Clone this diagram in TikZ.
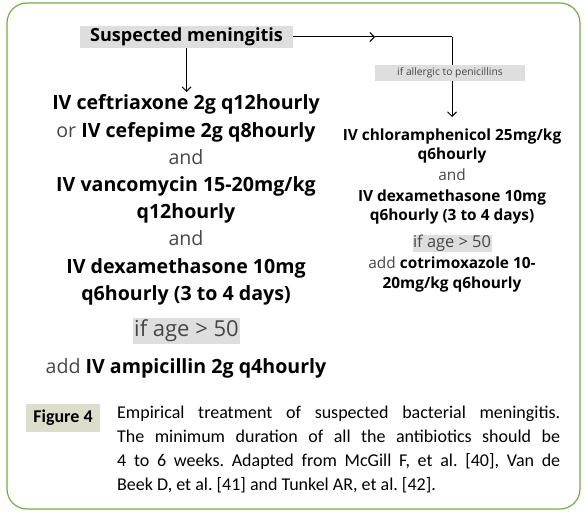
\documentclass[tikz,border=0pt]{standalone}
\usepackage{fontspec}
\setmainfont{Open Sans}
\newfontfamily\capfont{Carlito}
\usepackage{xcolor}
\usetikzlibrary{arrows.meta}
\definecolor{framegreen}{RGB}{112,173,71}
\definecolor{boxgray}{RGB}{222,222,222}
\definecolor{figbeige}{RGB}{221,221,204}
\definecolor{softtxt}{RGB}{70,70,70}
\frenchspacing
\begin{document}
\begin{tikzpicture}[x=1pt,y=-1pt,
  line/.style={anchor=base,inner sep=0pt},
  big/.style={line,font=\fontsize{19.6}{22}\selectfont\bfseries},
  bigl/.style={line,font=\fontsize{19.6}{22}\selectfont,text=softtxt},
  sml/.style={line,font=\fontsize{15.4}{18}\selectfont\bfseries},
  smll/.style={line,font=\fontsize{15.4}{18}\selectfont,text=softtxt},
  grey/.style={fill=boxgray,inner sep=0pt},
  arr/.style={-{Straight Barb[length=4.5pt,width=9pt]},line width=1pt}]
\useasboundingbox (0,0) rectangle (586,516);
\draw[framegreen,line width=1.2pt,rounded corners=20pt] (7,3) rectangle (580,509);
% top
\node[grey,minimum width=213pt,minimum height=22pt,font=\fontsize{18.1}{20}\selectfont\bfseries] (susp) at (186.5,37) {Suspected meningitis};
\coordinate (mid) at (375,37);
\coordinate (corner) at (452,37);
\coordinate (alt) at (452,117);
\coordinate (main) at (186.5,92);
\draw[arr] (susp.south) -- (main);
\draw[arr] (susp.east) -- (mid);
\draw[line width=1pt] (mid) -- (corner);
\draw[arr] (corner) -- (alt);
\node[grey,minimum width=150pt,minimum height=16pt,font=\fontsize{10.3}{12}\selectfont,text=softtxt] (allerg) at (450,73) {if allergic to penicillins};
% left column
\node[big] (l1) at (186,110) {IV ceftriaxone 2g q12hourly};
\node[big] (l2) at (186,137.5) {{\mdseries\color{softtxt}or} IV cefepime 2g q8hourly};
\node[bigl] (l3) at (186,164.5) {and};
\node[big] (l4) at (186,191.5) {IV vancomycin 15-20mg/kg};
\node[big] (l5) at (186,218) {q12hourly};
\node[bigl] (l6) at (186,245.5) {and};
\node[big] (l7) at (186,273) {IV dexamethasone 10mg};
\node[big] (l8) at (186,300) {q6hourly (3 to 4 days)};
\node[grey,minimum width=107pt,minimum height=26pt,font=\fontsize{22}{24}\selectfont,text=softtxt] (lage) at (186.5,331) {if age > 50};
\node[big] (l9) at (186,373) {{\mdseries\color{softtxt}add} IV ampicillin 2g q4hourly};
% right column
\node[sml] (r1) at (452,140.5) {IV chloramphenicol 25mg/kg};
\node[sml] (r2) at (452,160) {q6hourly};
\node[smll] (r3) at (452,180) {and};
\node[sml] (r4) at (452,201) {IV dexamethasone 10mg};
\node[sml] (r5) at (452,220.5) {q6hourly (3 to 4 days)};
\node[grey,minimum width=79pt,minimum height=17pt,font=\fontsize{16.4}{18}\selectfont,text=softtxt] (rage) at (452,243.5) {if age > 50};
\node[sml] (r6) at (452,268) {{\mdseries\color{softtxt}add} cotrimoxazole 10-};
\node[sml] (r7) at (452,288) {20mg/kg q6hourly};
% caption
\node[fill=figbeige,minimum width=74pt,minimum height=28pt,font=\capfont\fontsize{18}{20}\selectfont\bfseries] (fig) at (63,418) {Figure 4};
\node[anchor=north west,inner sep=0pt,text width=443pt,align=justify,font=\capfont\fontsize{18}{24}\selectfont] (cap) at (117,406)
  {Empirical treatment of suspected bacterial meningitis.\linebreak
   The minimum duration of all the antibiotics should be\linebreak
   4 to 6 weeks. Adapted from McGill F, et al. [40], Van de\linebreak
   Beek D, et al. [41] and Tunkel AR, et al. [42].};
\end{tikzpicture}
\end{document}
